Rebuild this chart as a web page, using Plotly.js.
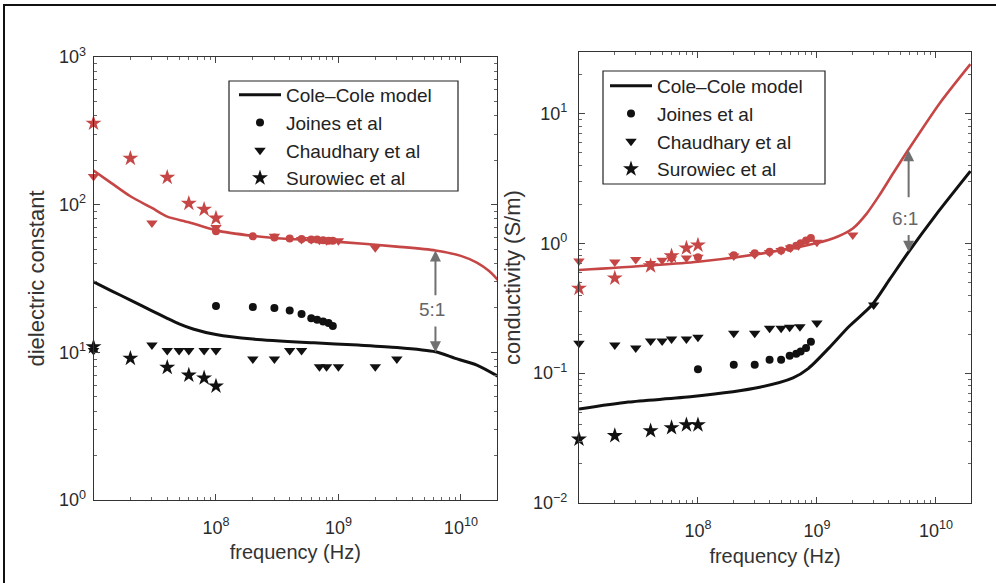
<!DOCTYPE html>
<html>
<head>
<meta charset="utf-8">
<script src="https://cdn.plot.ly/plotly-3.0.1.min.js"></script>
<style>
  html, body { margin: 0; padding: 0; background: #fff; }
  #wrap { position: relative; width: 996px; height: 583px; overflow: hidden; }
  #chart { width: 996px; height: 583px; }
  #frame { position: absolute; left: 3px; top: 4px; width: 1010px; height: 610px;
           border-top: 2px solid #111; border-left: 2px solid #111; pointer-events: none; }
</style>
</head>
<body>
<div id="wrap"><div id="chart"></div><div id="frame"></div></div>
<script>
// ---- Dielectric constant (left panel) ----
const modelFreqEps   = [1e7, 1.4e7, 2e7, 3e7, 4e7, 6e7, 1e8, 2e8, 3e8, 1e9, 3e9, 6.2e9, 1e10, 1.35e10, 1.7e10, 2e10];
const modelEpsTumour = [170, 140, 114, 95, 83, 76, 67, 61.5, 59.5, 56, 52, 49, 45, 40.5, 35.5, 31];
const modelFreqEpsN  = [1e7, 1.4e7, 2e7, 3e7, 4e7, 5e7, 6.5e7, 1e8, 2e8, 6.3e8, 1.45e9, 3e9, 6.2e9, 9e9, 1.35e10, 2e10];
const modelEpsNormal = [30, 26.1, 22.6, 19.1, 17.0, 15.6, 14.4, 13.2, 12.3, 11.6, 11.2, 10.8, 10.1, 9.1, 8.2, 6.9];

const joinesFreqEps   = [1e8, 2e8, 3e8, 4e8, 5e8, 6e8, 6.7e8, 7.5e8, 8.3e8, 9e8];
const joinesEpsNormal = [20.6, 20.3, 20.0, 19.2, 18.2, 17.0, 16.6, 16.2, 15.8, 15.1];
const joinesEpsTumour = [66, 61, 60, 59, 58.5, 58, 58, 57.5, 57, 57];

const chaudFreqEpsN   = [1e7, 3e7, 4e7, 5e7, 6e7, 8e7, 1e8, 2e8, 3e8, 4e8, 5e8, 7e8, 8e8, 1e9, 2e9, 3e9];
const chaudEpsNormal  = [10.3, 11.2, 10.3, 10.3, 10.3, 10.3, 10.3, 9.0, 9.0, 10.3, 10.3, 8.0, 8.0, 8.0, 8.0, 9.0];
const chaudFreqEpsT   = [1e7, 3e7, 1e8, 3e8, 5e8, 6e8, 7e8, 8e8, 1e9, 2e9];
const chaudEpsTumour  = [155, 75, 70, 61, 58, 58, 57.5, 57, 57, 51];

const surowFreq       = [1e7, 2e7, 4e7, 6e7, 8e7, 1e8];
const surowEpsNormal  = [10.9, 9.1, 7.9, 7.0, 6.7, 5.9];
const surowEpsTumour  = [356, 206, 153, 102, 93, 81];

// ---- Conductivity (right panel) ----
const modelFreqSigN   = [1e7, 2.6e7, 9e7, 3.3e8, 6.3e8, 8.5e8, 1.26e9, 1.86e9, 2.9e9, 4.1e9, 5.9e9, 1e10, 1.95e10];
const modelSigNormal  = [0.053, 0.060, 0.066, 0.078, 0.092, 0.109, 0.156, 0.229, 0.335, 0.53, 0.86, 1.66, 3.6];
const modelFreqSigT   = [1e7, 1e8, 3.5e8, 9.8e8, 1.5e9, 2e9, 2.6e9, 3.3e9, 4.4e9, 5.9e9, 1.07e10, 1.95e10];
const modelSigTumour  = [0.623, 0.722, 0.837, 1.0, 1.13, 1.3, 1.68, 2.3, 3.5, 5.3, 11.9, 24];

const joinesFreqSig   = [1e8, 2e8, 3e8, 4e8, 5e8, 5.9e8, 6.7e8, 7.3e8, 8.1e8, 8.9e8];
const joinesSigNormal = [0.107, 0.116, 0.116, 0.127, 0.127, 0.136, 0.141, 0.147, 0.156, 0.175];
const joinesSigTumour = [0.78, 0.81, 0.84, 0.86, 0.88, 0.92, 0.96, 1.0, 1.05, 1.1];

const chaudFreqSigN   = [1e7, 2e7, 3e7, 4e7, 5e7, 6e7, 8e7, 1e8, 2e8, 3e8, 4e8, 5e8, 5.9e8, 7.2e8, 1e9, 3e9];
const chaudSigNormal  = [0.170, 0.165, 0.156, 0.177, 0.177, 0.183, 0.183, 0.189, 0.203, 0.203, 0.222, 0.222, 0.226, 0.228, 0.243, 0.335];
const chaudFreqSigT   = [1e7, 2e7, 3e7, 4e7, 5e7, 6e7, 8e7, 1e8, 2e8, 3e8, 4e8, 5e8, 6e8, 7e8, 1e9, 2e9];
const chaudSigTumour  = [0.73, 0.72, 0.75, 0.70, 0.74, 0.76, 0.77, 0.78, 0.80, 0.82, 0.85, 0.88, 0.92, 0.96, 1.02, 1.16];

const surowSigNormal  = [0.031, 0.033, 0.036, 0.038, 0.040, 0.040];
const surowSigTumour  = [0.45, 0.54, 0.67, 0.80, 0.92, 0.97];

// Ratio markers: [frequency, lower curve value, upper curve value, label]
const ratioEps = [6.2e9, 10.0, 49.0, '5:1'];
const ratioSig = [5.9e9, 0.861, 5.22, '6:1'];

const legendNames = ['Cole\u2013Cole model', 'Joines et al', 'Chaudhary et al', 'Surowiec et al'];
const xTickVals = [1e8, 1e9, 1e10];
const xTickText = ['10<sup>8</sup>', '10<sup>9</sup>', '10<sup>10</sup>'];
const epsTickVals = [1, 10, 100, 1000];
const epsTickText = ['10<sup>0</sup>', '10<sup>1</sup>', '10<sup>2</sup>', '10<sup>3</sup>'];
const sigTickVals = [0.01, 0.1, 1, 10];
const sigTickText = ['10<sup>\u22122</sup>', '10<sup>\u22121</sup>', '10<sup>0</sup>', '10<sup>1</sup>'];

const RED = '#c64646';
const BLK = '#111111';
const FONT = 'Liberation Sans, Arial, Helvetica, sans-serif';
const W = 996, H = 583;

function minorTicks(lo, hi) {
  const v = [];
  for (let e = lo; e <= hi; e++) for (let m = 2; m <= 9; m++) v.push(m * Math.pow(10, e));
  return v;
}

function curve(x, y, color, width, xa, ya, leg, show) {
  return { type: 'scatter', mode: 'lines', x: x, y: y, xaxis: xa, yaxis: ya,
           line: { color: color, width: width, shape: 'spline', smoothing: 0.7 },
           name: legendNames[0], legend: leg, showlegend: show, hoverinfo: 'skip' };
}
function pts(x, y, color, symbol, size, name, xa, ya, leg, show) {
  return { type: 'scatter', mode: 'markers', x: x, y: y, xaxis: xa, yaxis: ya, cliponaxis: false,
           marker: { color: color, symbol: symbol, size: size, line: { width: 0 } },
           name: name, legend: leg, showlegend: show };
}

const traces = [
  // left panel: tumour (red) then normal (black)
  curve(modelFreqEps, modelEpsTumour, RED, 2.6, 'x', 'y', 'legend', false),
  pts(joinesFreqEps, joinesEpsTumour, RED, 'circle', 8, legendNames[1], 'x', 'y', 'legend', false),
  pts(chaudFreqEpsT, chaudEpsTumour, RED, 'triangle-down', 10, legendNames[2], 'x', 'y', 'legend', false),
  pts(surowFreq, surowEpsTumour, RED, 'star', 12, legendNames[3], 'x', 'y', 'legend', false),
  curve(modelFreqEpsN, modelEpsNormal, BLK, 3, 'x', 'y', 'legend', true),
  pts(joinesFreqEps, joinesEpsNormal, BLK, 'circle', 8, legendNames[1], 'x', 'y', 'legend', true),
  pts(chaudFreqEpsN, chaudEpsNormal, BLK, 'triangle-down', 10, legendNames[2], 'x', 'y', 'legend', true),
  pts(surowFreq, surowEpsNormal, BLK, 'star', 12, legendNames[3], 'x', 'y', 'legend', true),
  // right panel
  curve(modelFreqSigT, modelSigTumour, RED, 2.6, 'x2', 'y2', 'legend2', false),
  pts(joinesFreqSig, joinesSigTumour, RED, 'circle', 8, legendNames[1], 'x2', 'y2', 'legend2', false),
  pts(chaudFreqSigT, chaudSigTumour, RED, 'triangle-down', 10, legendNames[2], 'x2', 'y2', 'legend2', false),
  pts(surowFreq, surowSigTumour, RED, 'star', 12, legendNames[3], 'x2', 'y2', 'legend2', false),
  curve(modelFreqSigN, modelSigNormal, BLK, 3, 'x2', 'y2', 'legend2', true),
  pts(joinesFreqSig, joinesSigNormal, BLK, 'circle', 8, legendNames[1], 'x2', 'y2', 'legend2', true),
  pts(chaudFreqSigN, chaudSigNormal, BLK, 'triangle-down', 10, legendNames[2], 'x2', 'y2', 'legend2', true),
  pts(surowFreq, surowSigNormal, BLK, 'star', 12, legendNames[3], 'x2', 'y2', 'legend2', true)
];

function axisBase(extra) {
  return Object.assign({
    type: 'log', showline: true, linecolor: '#333', linewidth: 1, mirror: 'allticks',
    ticks: 'inside', ticklen: 6, tickcolor: '#444', tickwidth: 1,
    tickmode: 'array', showgrid: false, zeroline: false, automargin: false, fixedrange: true,
    tickfont: { family: FONT, size: 18, color: '#2a2a2a' }
  }, extra);
}

const xMinor = { tickmode: 'array', tickvals: minorTicks(7, 10), ticks: 'inside', ticklen: 3, tickcolor: '#666' };
const xTitleFont = { family: FONT, size: 20, color: '#333' };
const yTitleFont = { family: FONT, size: 22, color: '#333' };
const legendFont = { family: FONT, size: 19, color: '#222' };

// legend frames, in page pixels: [left, top, right, bottom]
function legendBox(l, t, r, b) {
  return { type: 'rect', xref: 'paper', yref: 'paper', layer: 'above',
           x0: l / W, x1: r / W, y0: 1 - b / H, y1: 1 - t / H,
           line: { color: '#222', width: 1.2 }, fillcolor: '#fff' };
}

const layout = {
  width: W, height: H,
  margin: { l: 0, r: 0, t: 0, b: 0 },
  paper_bgcolor: 'rgba(0,0,0,0)', plot_bgcolor: '#fff',
  font: { family: FONT, color: '#333' },
  xaxis: axisBase({ domain: [0.0939, 0.499], anchor: 'y', range: [7, 10.295],
    tickvals: xTickVals, ticktext: xTickText, minor: xMinor, ticklabelstandoff: 11,
    title: { text: 'frequency (Hz)', font: xTitleFont, standoff: 8 } }),
  yaxis: axisBase({ domain: [0.1424, 0.9022], anchor: 'x', range: [0, 3],
    tickvals: epsTickVals, ticktext: epsTickText, ticklabelstandoff: 3,
    minor: { tickmode: 'array', tickvals: minorTicks(0, 2), ticks: 'inside', ticklen: 3, tickcolor: '#666' },
    title: { text: 'dielectric constant', font: yTitleFont, standoff: 8 } }),
  xaxis2: axisBase({ domain: [0.5813, 0.9749], anchor: 'y2', range: [7, 10.295],
    tickvals: xTickVals, ticktext: xTickText, minor: xMinor, ticklabelstandoff: 11,
    title: { text: 'frequency (Hz)', font: xTitleFont, standoff: 9 } }),
  yaxis2: axisBase({ domain: [0.1372, 0.9108], anchor: 'x2', range: [-2, 1.474],
    tickvals: sigTickVals, ticktext: sigTickText, ticklabelstandoff: 7,
    minor: { tickmode: 'array', tickvals: minorTicks(-2, 1), ticks: 'inside', ticklen: 3, tickcolor: '#666' },
    title: { text: 'conductivity (S/m)', font: yTitleFont, standoff: 6 } }),
  legend: { x: 234 / W, y: 1 - 76 / H, xanchor: 'left', yanchor: 'top',
    bgcolor: 'rgba(0,0,0,0)', borderwidth: 0, itemwidth: 42, font: legendFont, tracegroupgap: 0 },
  legend2: { x: 605 / W, y: 1 - 67 / H, xanchor: 'left', yanchor: 'top',
    bgcolor: 'rgba(0,0,0,0)', borderwidth: 0, itemwidth: 42, font: legendFont, tracegroupgap: 0 },
  shapes: [legendBox(229, 81, 458, 191), legendBox(603, 71, 825, 184)],
  annotations: []
};

// Double-headed ratio arrows with the label in the gap
function ratioArrow(r, xa, ya, gapLo, gapHi, labelY) {
  const lx = Math.log10(r[0]);
  const common = { xref: xa, yref: ya, axref: xa, ayref: ya, text: '', showarrow: true,
                   arrowhead: 2, arrowsize: 1.1, arrowwidth: 2, arrowcolor: '#707070' };
  layout.annotations.push(Object.assign({}, common, { x: lx, y: Math.log10(r[2]), ax: lx, ay: Math.log10(gapHi) }));
  layout.annotations.push(Object.assign({}, common, { x: lx, y: Math.log10(r[1]), ax: lx, ay: Math.log10(gapLo) }));
  layout.annotations.push({ xref: xa, yref: ya, x: lx - 0.03, y: Math.log10(labelY), text: r[3], showarrow: false,
                            font: { family: FONT, size: 19, color: '#666' } });
}
ratioArrow(ratioEps, 'x', 'y', 15.3, 23.8, 19.4);
ratioArrow(ratioSig, 'x2', 'y2', 1.19, 2.21, 1.56);

Plotly.newPlot('chart', traces, layout, { staticPlot: true, displayModeBar: false });
</script>
</body>
</html>
